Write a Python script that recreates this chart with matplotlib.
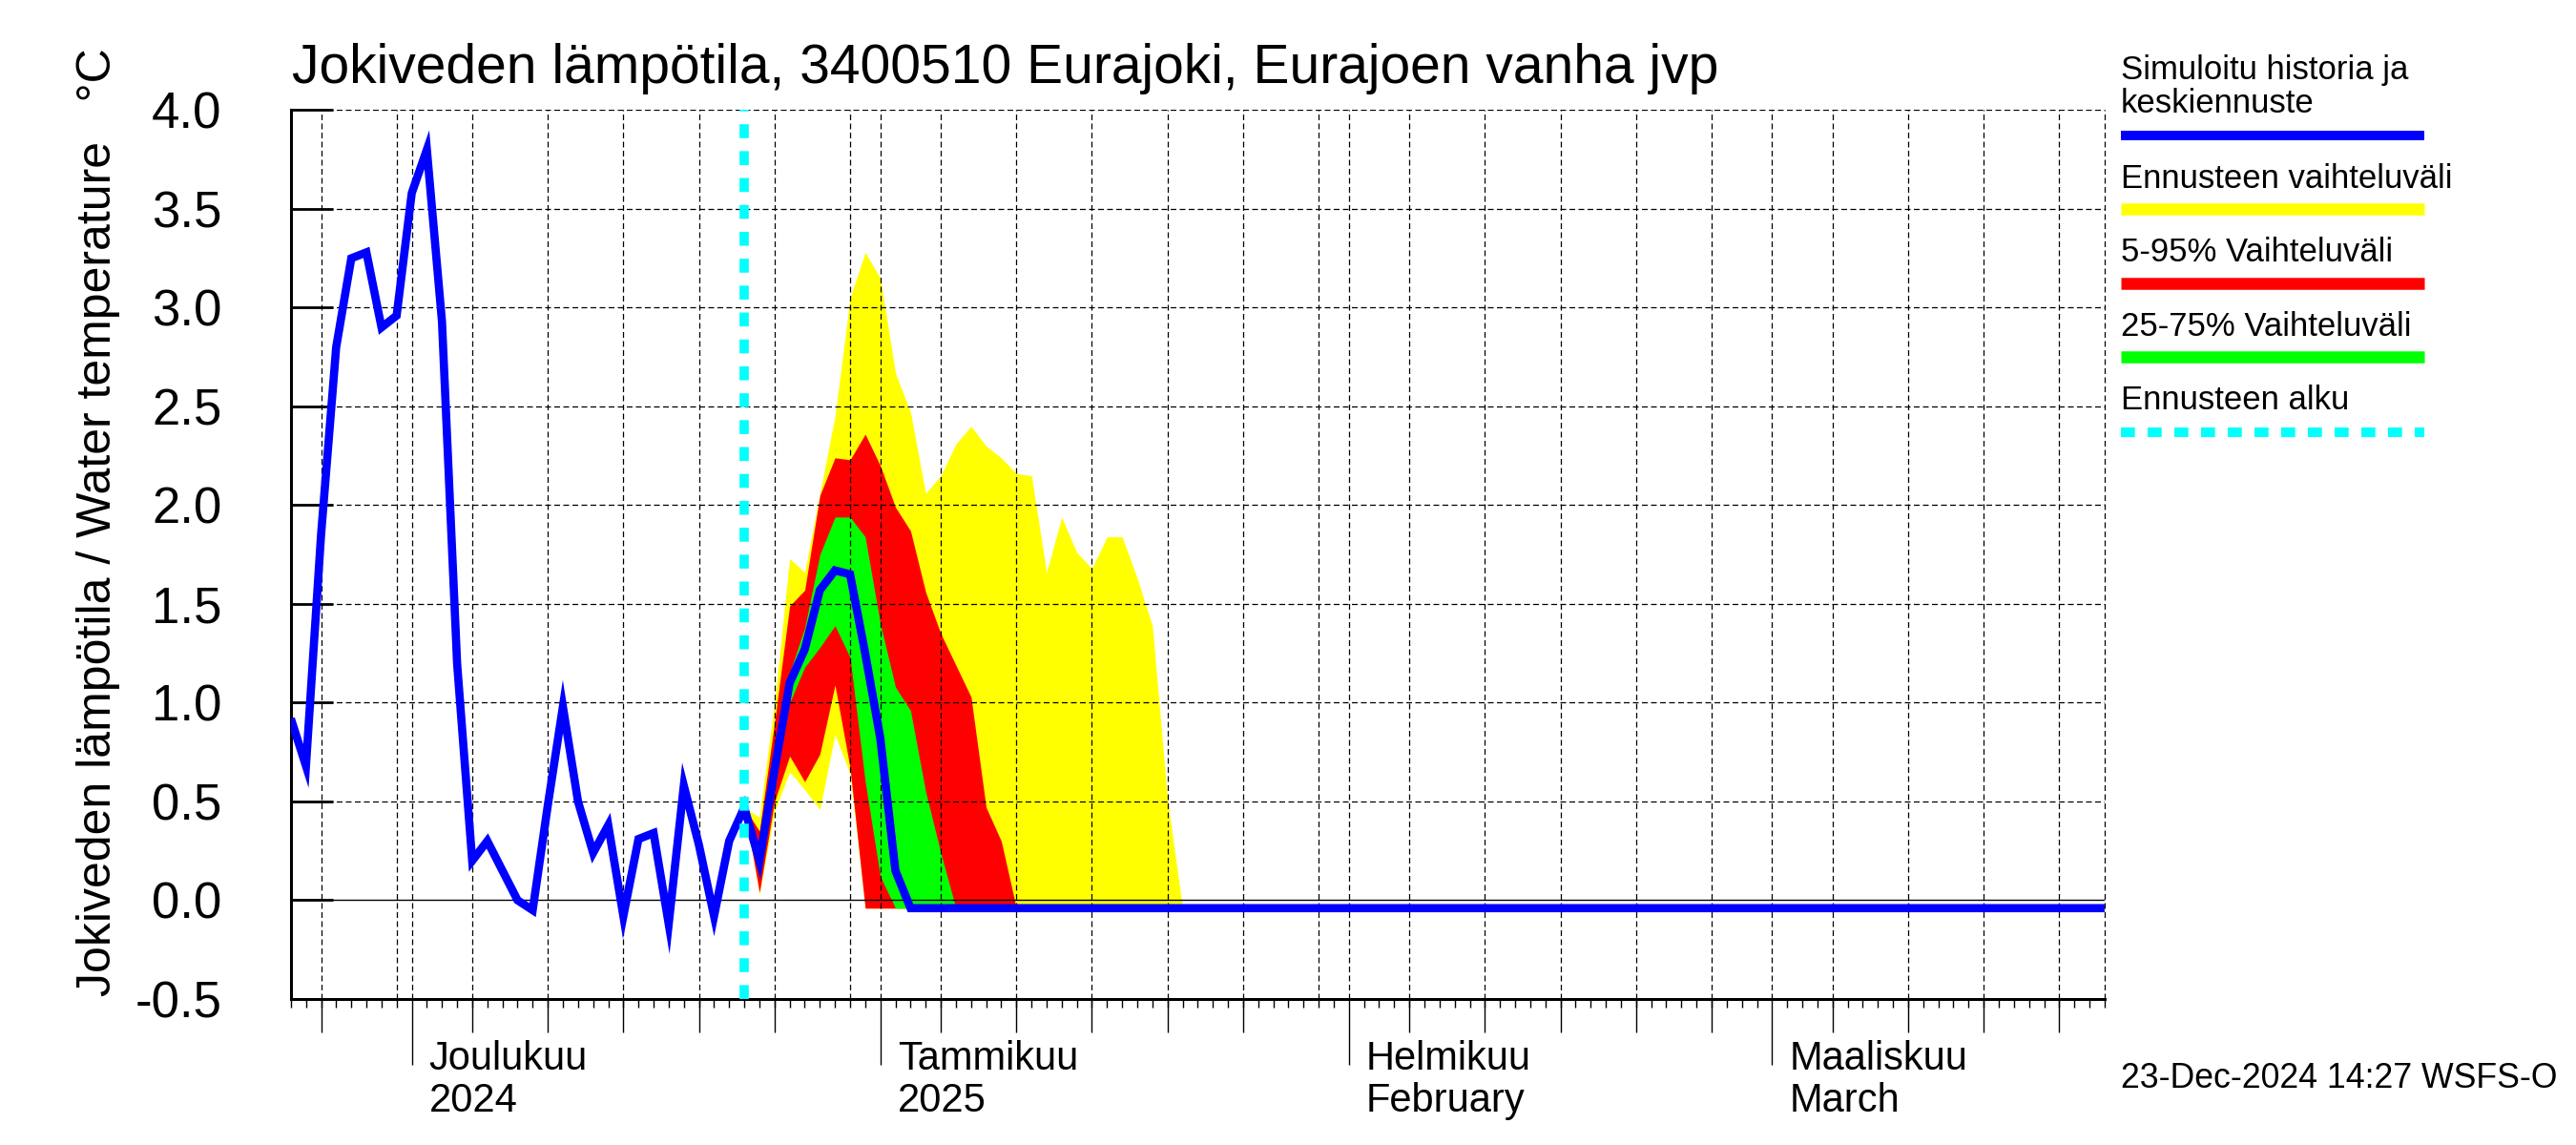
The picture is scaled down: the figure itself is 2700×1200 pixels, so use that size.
import datetime as dt

import matplotlib
matplotlib.use("Agg")
import matplotlib.dates as mdates
import matplotlib.pyplot as plt
import numpy as np
from matplotlib.lines import Line2D

plt.rcParams["font.family"] = ["Liberation Sans", "DejaVu Sans"]

# Simulated history, daily values from 23 Nov 2024 up to the forecast start
hist_start = np.datetime64("2024-11-23")
hist_vals = [0.92, 0.68, 1.85, 2.80, 3.25, 3.28, 2.90, 2.96, 3.58, 3.80,
             2.93, 1.20, 0.20, 0.30, 0.15, 0.00, -0.05, 0.48, 0.98, 0.50,
             0.24, 0.38, -0.08, 0.31, 0.34, -0.12, 0.58, 0.28, -0.08, 0.30,
             0.47]

# Forecast: daily 23 Dec 2024 .. 21 Jan 2025, then the last day of the chart
fc_start = np.datetime64("2024-12-23")
fc_end = np.datetime64("2025-03-23")
fc_mean = [0.47, 0.20, 0.66, 1.10, 1.27, 1.57, 1.67, 1.65, 1.25, 0.82,
           0.15, -0.04, -0.04, -0.04, -0.04, -0.04, -0.04, -0.04, -0.04, -0.04,
           -0.04, -0.04, -0.04, -0.04, -0.04, -0.04, -0.04, -0.04, -0.04, -0.04,
           -0.04]
fc_max = [0.47, 0.42, 1.00, 1.73, 1.66, 2.06, 2.45, 3.05, 3.28, 3.15,
          2.67, 2.47, 2.06, 2.15, 2.31, 2.40, 2.30, 2.24, 2.16, 2.15,
          1.66, 1.94, 1.76, 1.68, 1.84, 1.84, 1.63, 1.39, 0.51, -0.04,
          -0.04]
fc_min = [0.47, 0.03, 0.45, 0.65, 0.56, 0.46, 0.84, 0.64, -0.04, -0.04,
          -0.04, -0.04, -0.04, -0.04, -0.04, -0.04, -0.04, -0.04, -0.04, -0.04,
          -0.04, -0.04, -0.04, -0.04, -0.04, -0.04, -0.04, -0.04, -0.04, -0.04,
          -0.04]
fc_p95 = [0.47, 0.35, 0.90, 1.49, 1.57, 2.05, 2.24, 2.23, 2.36, 2.20,
          1.99, 1.87, 1.56, 1.35, 1.19, 1.03, 0.47, 0.30, -0.04, -0.04,
          -0.04, -0.04, -0.04, -0.04, -0.04, -0.04, -0.04, -0.04, -0.04, -0.04,
          -0.04]
fc_p05 = [0.47, 0.04, 0.50, 0.73, 0.60, 0.74, 1.09, 0.67, -0.04, -0.04,
          -0.04, -0.04, -0.04, -0.04, -0.04, -0.04, -0.04, -0.04, -0.04, -0.04,
          -0.04, -0.04, -0.04, -0.04, -0.04, -0.04, -0.04, -0.04, -0.04, -0.04,
          -0.04]
fc_p75 = [0.47, 0.25, 0.75, 1.15, 1.38, 1.75, 1.94, 1.94, 1.84, 1.40,
          1.08, 0.96, 0.55, 0.24, -0.04, -0.04, -0.04, -0.04, -0.04, -0.04,
          -0.04, -0.04, -0.04, -0.04, -0.04, -0.04, -0.04, -0.04, -0.04, -0.04,
          -0.04]
fc_p25 = [0.47, 0.15, 0.60, 1.00, 1.18, 1.28, 1.39, 1.23, 0.60, 0.12,
          -0.04, -0.04, -0.04, -0.04, -0.04, -0.04, -0.04, -0.04, -0.04, -0.04,
          -0.04, -0.04, -0.04, -0.04, -0.04, -0.04, -0.04, -0.04, -0.04, -0.04,
          -0.04]

x_start = dt.date(2024, 11, 23)
x_end = dt.date(2025, 3, 23)
month_labels = [(dt.date(2024, 12, 1), "Joulukuu", "2024"),
                (dt.date(2025, 1, 1), "Tammikuu", "2025"),
                (dt.date(2025, 2, 1), "Helmikuu", "February"),
                (dt.date(2025, 3, 1), "Maaliskuu", "March")]
y_ticks = [-0.5, 0.0, 0.5, 1.0, 1.5, 2.0, 2.5, 3.0, 3.5, 4.0]
y_labels = ["-0.5", "0.0", "0.5", "1.0", "1.5", "2.0", "2.5", "3.0", "3.5", "4.0"]

hist_dates = hist_start + np.arange(len(hist_vals))
fc_dates = np.append(fc_start + np.arange(len(fc_mean) - 1), fc_end)
line_dates = np.concatenate([hist_dates, fc_dates[1:]])
line_vals = hist_vals + fc_mean[1:]

fig = plt.figure(figsize=(27, 12), dpi=100)
ax = fig.add_axes([0.1129, 0.1275, 0.7041, 0.7763])

# forecast bands
ax.fill_between(fc_dates, fc_min, fc_max, color="#ffff00", lw=0, zorder=1)
ax.fill_between(fc_dates, fc_p05, fc_p95, color="#ff0000", lw=0, zorder=1.1)
ax.fill_between(fc_dates, fc_p25, fc_p75, color="#00ff00", lw=0, zorder=1.2)

# grid: days 1,5,10,15,20,25,30 of each month
grid_dates = []
mid_dates = []
for y, m in [(2024, 11), (2024, 12), (2025, 1), (2025, 2), (2025, 3)]:
    for d in [1, 5, 10, 15, 20, 25, 30]:
        try:
            day = dt.date(y, m, d)
        except ValueError:
            continue
        if x_start < day < x_end:
            grid_dates.append(day)
            if d in (5, 10, 15, 20, 25):
                mid_dates.append(day)

grid_style = dict(color="black", lw=0.9, linestyle=(0, (4.8, 2.8)), zorder=2)
for day in grid_dates:
    ax.axvline(day, **grid_style)
for v in y_ticks[2:]:
    ax.axhline(v, **grid_style)
ax.axhline(0.0, color="black", lw=1.0, zorder=2)
ax.axvline(x_end, clip_on=False, **grid_style)

ax.plot(line_dates, line_vals, color="#0000ff", lw=6.2, zorder=3,
        solid_joinstyle="miter", solid_capstyle="butt")
ax.axvline(fc_start, color="#00ffff", lw=7, linestyle=(0, (1.5, 1.4)), zorder=4)

ax.set_xlim(x_start, x_end)
ax.set_ylim(-0.5, 4.0)

# x axis ticks
ax.xaxis.set_major_locator(mdates.MonthLocator())
ax.xaxis.set_minor_locator(mdates.DayLocator())
ax.xaxis.set_major_formatter(plt.NullFormatter())
ax.xaxis.set_minor_formatter(plt.NullFormatter())
ax.tick_params(axis="x", which="major", direction="out", length=50, width=1.0)
ax.tick_params(axis="x", which="minor", direction="out", length=6.7, width=1.0)
for tick in ax.xaxis.get_major_ticks():
    if tick.get_loc() == mdates.date2num(dt.date(2025, 1, 1)):
        tick.tick1line.set_markeredgewidth(2.6)
ax.vlines(mdates.date2num(mid_dates), 0, -0.0376, color="black", lw=1.0,
          transform=ax.get_xaxis_transform(), clip_on=False)

for day, top, bottom in month_labels:
    for text, dy in [(top, -53), (bottom, -85)]:
        ax.annotate(text, xy=(day, 0), xycoords=("data", "axes fraction"),
                    xytext=(13, dy), textcoords="offset points",
                    ha="left", va="baseline", fontsize=30,
                    annotation_clip=False)

# y axis ticks
ax.set_yticks(y_ticks)
ax.set_yticklabels(y_labels)
ax.tick_params(axis="y", direction="in", length=32, width=2, labelsize=38,
               pad=52)

for side in ["top", "right"]:
    ax.spines[side].set_visible(False)
for side in ["left", "bottom"]:
    ax.spines[side].set_linewidth(2.2)

fig.text(0.1133, 0.9275, "Jokiveden lämpötila, 3400510 Eurajoki, Eurajoen vanha jvp",
         fontsize=41, ha="left", va="baseline")
fig.text(0.038, 0.544, "Jokiveden lämpötila / Water temperature   °C",
         fontsize=36, rotation=90, ha="center", va="center")
fig.text(0.8233, 0.05, "23-Dec-2024 14:27 WSFS-O", fontsize=25.7,
         ha="left", va="baseline")

# legend on the right
lx0, lx1 = 2223 / 2700, 2541 / 2700
legend_items = [
    (["Simuloitu historia ja", "keskiennuste"], [83, 118], 142, "#0000ff", 7.2, "-"),
    (["Ennusteen vaihteluväli"], [197], 219, "#ffff00", 9, "-"),
    (["5-95% Vaihteluväli"], [274], 297, "#ff0000", 9, "-"),
    (["25-75% Vaihteluväli"], [352], 374, "#00ff00", 9, "-"),
    (["Ennusteen alku"], [429], 453, "#00ffff", 7.2, (0, (1.47, 1.33))),
]
for texts, text_ys, line_y, color, lw, ls in legend_items:
    for text, ty in zip(texts, text_ys):
        fig.text(lx0, 1 - ty / 1200, text, fontsize=25, ha="left", va="baseline")
    fig.add_artist(Line2D([lx0, lx1], [1 - line_y / 1200] * 2,
                          transform=fig.transFigure, color=color, lw=lw,
                          linestyle=ls, solid_capstyle="butt"))

fig.savefig("out.png", dpi=100)
